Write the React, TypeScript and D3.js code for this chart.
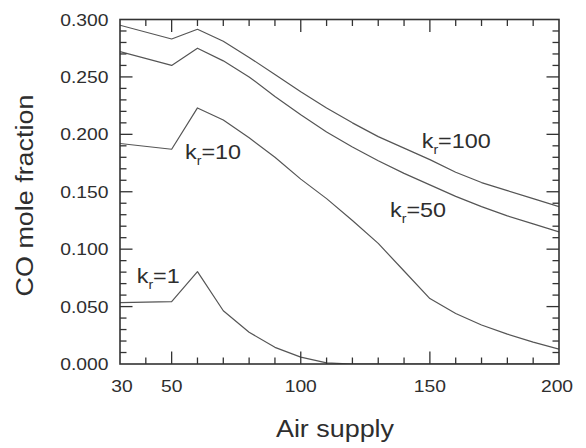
import React from "react";
import * as d3 from "d3";

const airSupply = [30, 50, 60, 70, 80, 90, 100, 110, 120, 130, 140, 150, 160, 170, 180, 190, 200];
const kr100 = [0.295, 0.283, 0.2915, 0.281, 0.267, 0.252, 0.237, 0.223, 0.21, 0.198, 0.188, 0.178, 0.167, 0.158, 0.151, 0.144, 0.137];
const kr50 = [0.272, 0.26, 0.275, 0.264, 0.25, 0.233, 0.217, 0.202, 0.189, 0.177, 0.166, 0.156, 0.146, 0.137, 0.129, 0.122, 0.115];
const kr10 = [0.192, 0.187, 0.223, 0.2125, 0.197, 0.18, 0.161, 0.144, 0.125, 0.105, 0.081, 0.057, 0.044, 0.034, 0.026, 0.019, 0.013];
const kr1 = [0.0534, 0.0543, 0.0804, 0.0464, 0.0276, 0.0145, 0.006, 0.001, 0.0, 0, 0, 0, 0, 0, 0, 0, 0];

const xMajor = [50, 100, 150, 200];
const xLabels = [30, 50, 100, 150, 200];
const yMajor = [0, 0.05, 0.1, 0.15, 0.2, 0.25, 0.3];

const series = [
  { name: "100", values: kr100, lx: 421.7, ly: 148.3 },
  { name: "50", values: kr50, lx: 390, ly: 216.7 },
  { name: "10", values: kr10, lx: 185, ly: 159.3 },
  { name: "1", values: kr1, lx: 136.7, ly: 283.3 },
];

const W = 586, H = 448;
const L = 120, R = 559, T = 19.5, B = 364;
const SX = 1.17;
const FONT = "'Liberation Sans', Arial, Helvetica, sans-serif";
const TXT = "#2e2e2e";

export default function App() {
  const x = d3.scaleLinear().domain([30, 200]).range([L, R]);
  const y = d3.scaleLinear().domain([0, 0.3]).range([B, T]);
  const line = d3
    .line<number>()
    .x((_, i) => x(airSupply[i]))
    .y((d) => y(d));

  const xMinor = d3.range(40, 200, 10);
  const yMinor = d3.range(1, 30).map((v) => v / 100);
  const isXMajor = (v: number) => xMajor.includes(v);
  const isYMajor = (v: number) => Math.abs(Math.round(v * 100) % 5) === 0;

  const minorLen = 6.5, majorLen = 12.5;

  return (
    <svg width={W} height={H} style={{ position: "absolute", left: 0, top: 0, background: "#fff" }} fontFamily={FONT}>
      <rect x={0} y={0} width={W} height={H} fill="#fff" />
      <defs>
        <clipPath id="plot">
          <rect x={L} y={T - 2} width={R - L} height={B - T + 2} />
        </clipPath>
      </defs>
      {/* series lines */}
      <g clipPath="url(#plot)">
        {series.map((s) => (
          <path key={s.name} d={line(s.values) || ""} fill="none" stroke="#555" strokeWidth={1.2} strokeLinejoin="round" />
        ))}
      </g>
      {/* ticks */}
      <g stroke="#333" strokeWidth={1.3}>
        {xMinor.map((v) => {
          const len = isXMajor(v) ? majorLen : minorLen;
          return (
            <g key={"xt" + v}>
              <line x1={x(v)} x2={x(v)} y1={B} y2={B - len} />
              <line x1={x(v)} x2={x(v)} y1={T} y2={T + len} />
            </g>
          );
        })}
        {yMinor.map((v) => {
          const len = isYMajor(v) ? majorLen : minorLen;
          return (
            <g key={"yt" + v}>
              <line x1={L} x2={L + len} y1={y(v)} y2={y(v)} />
              <line x1={R} x2={R - len} y1={y(v)} y2={y(v)} />
            </g>
          );
        })}
      </g>
      {/* frame */}
      <rect x={L} y={T} width={R - L} height={B - T} fill="none" stroke="#333" strokeWidth={1.6} />
      {/* y tick labels */}
      {yMajor.map((v) => (
        <text
          key={"yl" + v}
          transform={`translate(108.5,${y(v) + 6}) scale(${SX},1)`}
          textAnchor="end"
          fontSize={16.5}
          fill={TXT}
        >
          {d3.format(".3f")(v)}
        </text>
      ))}
      {/* x tick labels */}
      {xLabels.map((v) => (
        <text
          key={"xl" + v}
          transform={`translate(${x(v) + (v === 30 ? 2 : v === 200 ? -2 : 0)},391.5) scale(${SX},1)`}
          textAnchor="middle"
          fontSize={16.5}
          fill={TXT}
        >
          {v}
        </text>
      ))}
      {/* axis titles */}
      <text transform={`translate(335,437.3) scale(${SX},1)`} textAnchor="middle" fontSize={23} fill={TXT}>
        Air supply
      </text>
      <text transform={`translate(33.3,195.5) rotate(-90) scale(${SX},1)`} textAnchor="middle" fontSize={23} fill={TXT}>
        CO mole fraction
      </text>
      {/* curve labels */}
      {series.map((s) => (
        <text key={"lab" + s.name} transform={`translate(${s.lx},${s.ly}) scale(${SX},1)`} fontSize={20} fill={TXT}>
          <tspan>k</tspan>
          <tspan fontSize={12} dy={6}>r</tspan>
          <tspan dy={-6}>={s.name}</tspan>
        </text>
      ))}
    </svg>
  );
}
